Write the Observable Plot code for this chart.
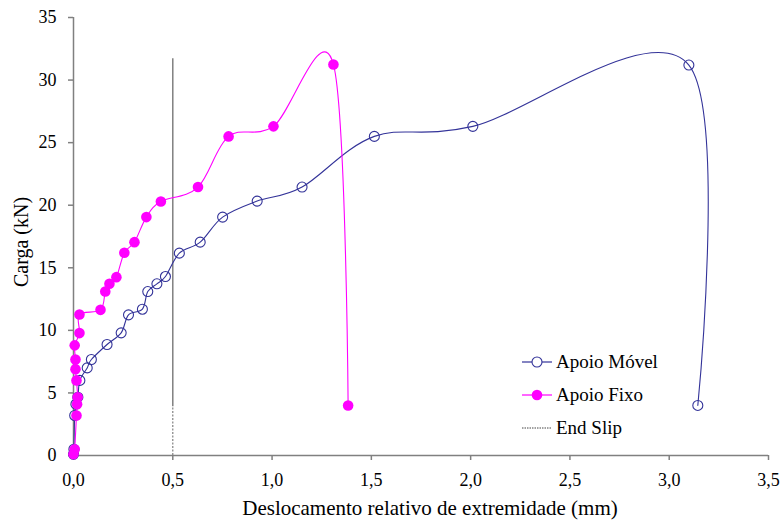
<!DOCTYPE html>
<html>
<head>
<meta charset="utf-8">
<script src="https://cdn.jsdelivr.net/npm/d3@7"></script>
<script src="https://cdn.jsdelivr.net/npm/@observablehq/plot@0.6"></script>
<style>
  html, body { margin: 0; padding: 0; background: white; }
  #chart { position: relative; width: 780px; height: 522px; }
  #chart svg, #chart svg text { font-family: "Liberation Serif", "Times New Roman", serif !important; }
</style>
</head>
<body>
<div id="chart"></div>
<script>
// ---- Data ----
const seriesNames = ["Apoio Móvel", "Apoio Fixo", "End Slip"];

// Apoio Móvel: load (kN) and relative end displacement (mm)
const loadMovel = [0.1, 0.5, 3.2, 4.1, 4.66, 6.0, 7.0, 7.67, 8.87, 9.8, 11.24, 11.69, 13.1, 13.72, 14.3, 16.17, 17.05, 19.05, 20.33, 21.45, 25.5, 26.3, 31.2, 4.0];
const dispMovel = [0.0, 0.002, 0.006, 0.012, 0.022, 0.032, 0.069, 0.09, 0.169, 0.24, 0.277, 0.347, 0.374, 0.42, 0.463, 0.533, 0.638, 0.751, 0.925, 1.151, 1.515, 2.011, 3.099, 3.144];

// Apoio Fixo
const loadFixo = [0.1, 0.5, 3.2, 4.1, 4.66, 6.0, 6.9, 7.67, 8.8, 9.78, 11.27, 11.64, 13.1, 13.72, 14.25, 16.2, 17.05, 19.05, 20.3, 21.45, 25.5, 26.3, 31.25, 4.0];
const dispFixo = [0.0, 0.006, 0.015, 0.018, 0.021, 0.015, 0.01, 0.01, 0.006, 0.03, 0.03, 0.136, 0.16, 0.181, 0.216, 0.256, 0.307, 0.367, 0.44, 0.627, 0.781, 1.007, 1.309, 1.383];

// End slip reference line
const endSlipX = 0.5;
const endSlipBreak = 3.9;   // dotted below, solid above
const endSlipTop = 31.7;

// Axis ticks
const xTicks = [0, 0.5, 1.0, 1.5, 2.0, 2.5, 3.0, 3.5];
const yTicks = [0, 5, 10, 15, 20, 25, 30, 35];
const xLabel = "Deslocamento relativo de extremidade (mm)";
const yLabel = "Carga (kN)";

// ---- Build tables ----
const movel = loadMovel.map((f, i) => ({d: dispMovel[i], f}));
const fixo = loadFixo.map((f, i) => ({d: dispFixo[i], f}));

const serif = "'Liberation Serif', 'Times New Roman', serif";
const cMovel = "#333399";
const cFixo = "#FF00FF";
const axisGray = "#808080";
const excelSmooth = d3.curveCardinal.tension(0);
const fmt = d => d.toFixed(1).replace(".", ",");

const chart = Plot.plot({
  width: 780,
  height: 522,
  marginLeft: 73,
  marginRight: 12,
  marginTop: 17,
  marginBottom: 67,
  style: {fontFamily: serif, fontSize: "18px", background: "white", color: "black"},
  x: {domain: [0, 3.5]},
  y: {domain: [0, 35]},
  marks: [
    Plot.axisX({ticks: xTicks, tickFormat: fmt, tickSize: 5, tickPadding: 13, stroke: axisGray, strokeWidth: 1.5, fill: "black", label: null, fontFamily: serif}),
    Plot.axisY({ticks: yTicks, tickSize: 5, tickPadding: 12, stroke: axisGray, strokeWidth: 1.5, fill: "black", label: null, fontFamily: serif}),
    Plot.ruleY([0], {stroke: axisGray, strokeWidth: 1.5}),
    Plot.ruleX([0], {stroke: axisGray, strokeWidth: 1.5}),
    Plot.ruleX([endSlipX], {y1: endSlipBreak, y2: endSlipTop, stroke: axisGray, strokeWidth: 1.5}),
    Plot.ruleX([endSlipX], {y1: 0, y2: endSlipBreak, stroke: axisGray, strokeWidth: 1.2, strokeDasharray: "2,1.5"}),
    Plot.line(movel, {x: "d", y: "f", stroke: cMovel, strokeWidth: 1.1, curve: excelSmooth}),
    Plot.dot(movel, {x: "d", y: "f", r: 5, stroke: cMovel, strokeWidth: 1.1, fill: "none"}),
    Plot.line(fixo, {x: "d", y: "f", stroke: cFixo, strokeWidth: 1.1, curve: excelSmooth}),
    Plot.dot(fixo, {x: "d", y: "f", r: 5.3, fill: cFixo, stroke: "none"})
  ]
});

document.getElementById("chart").appendChild(chart);

const svg = d3.select(chart);

// ---- Axis titles ----
svg.append("text")
  .attr("transform", "translate(21,242) rotate(-90)")
  .attr("text-anchor", "middle").attr("dy", "0.35em")
  .attr("font-family", serif).attr("font-size", 20).attr("fill", "black")
  .text(yLabel);
svg.append("text")
  .attr("x", 430).attr("y", 515)
  .attr("text-anchor", "middle")
  .attr("font-family", serif).attr("font-size", 21).attr("fill", "black")
  .text(xLabel);

// ---- Legend (inside the plot area, lower right) ----
const lg = svg.append("g").attr("font-family", serif).attr("font-size", 19).attr("text-anchor", "start");
const rows = [
  {name: seriesNames[0], y: 362, stroke: cMovel, kind: "open"},
  {name: seriesNames[1], y: 395, stroke: cFixo, kind: "filled"},
  {name: seriesNames[2], y: 428, stroke: "#444", kind: "dotted"}
];
rows.forEach(r => {
  lg.append("line").attr("x1", 522).attr("x2", 552).attr("y1", r.y).attr("y2", r.y)
    .attr("stroke", r.stroke).attr("stroke-width", r.kind === "dotted" ? 1 : 1.2)
    .attr("stroke-dasharray", r.kind === "dotted" ? "1.5,1" : null);
  if (r.kind === "open") lg.append("circle").attr("cx", 537).attr("cy", r.y).attr("r", 5).attr("fill", "white").attr("stroke", r.stroke).attr("stroke-width", 1.1);
  if (r.kind === "filled") lg.append("circle").attr("cx", 537).attr("cy", r.y).attr("r", 5.3).attr("fill", r.stroke);
  lg.append("text").attr("x", 556).attr("y", r.y).attr("dy", "0.32em").attr("text-anchor", "start").attr("fill", "black").text(r.name);
});
</script>
</body>
</html>
